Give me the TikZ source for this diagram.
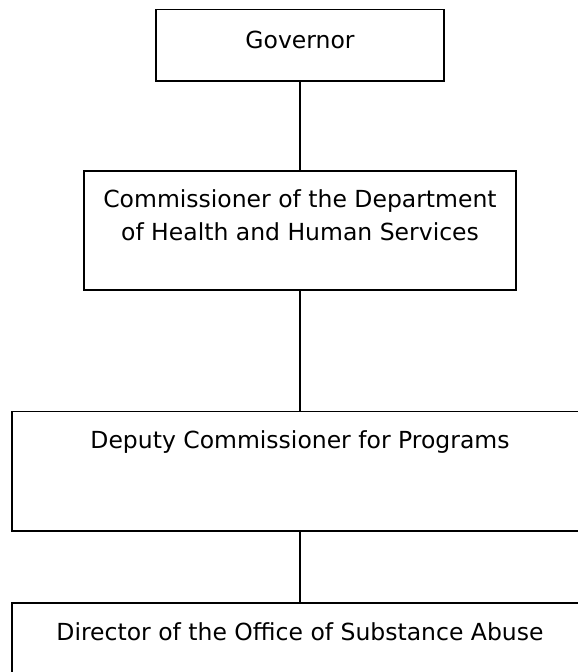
\documentclass[tikz,border=0pt]{standalone}
\usepackage{fontspec}
\setmainfont{DejaVu Sans}
\begin{document}
\begin{tikzpicture}[x=1pt, y=-1pt, line width=1.5pt,
  box/.style={draw, rectangle, inner sep=0pt},
  lbl/.style={anchor=base, align=center, inner sep=0pt, font=\fontsize{23.5}{33}\selectfont}]
  \useasboundingbox (0,0) rectangle (578,672);
  % boxes
  \node[box, minimum width=288pt, minimum height=71.5pt] (gov) at (300,45.25) {};
  \node[box, minimum width=432pt, minimum height=119pt] (comm) at (300,230.5) {};
  \node[box, minimum width=576pt, minimum height=119.5pt] (dep) at (300,471.25) {};
  \node[box, minimum width=576pt, minimum height=119pt] (dir) at (300,662.5) {};
  % texts
  \node[lbl] (govtxt) at (300,48.3) {Governor};
  \node[lbl] (commtxt) at (300,240) {Commissioner of the Department\\of Health and Human Services};
  \node[lbl] (deptxt) at (300,448) {Deputy Commissioner for Programs};
  \node[lbl] (dirtxt) at (300,640) {Director of the Office of Substance Abuse};
  % connectors
  \draw (gov) -- (comm);
  \draw (comm) -- (dep);
  \draw (dep) -- (dir);
\end{tikzpicture}
\end{document}
